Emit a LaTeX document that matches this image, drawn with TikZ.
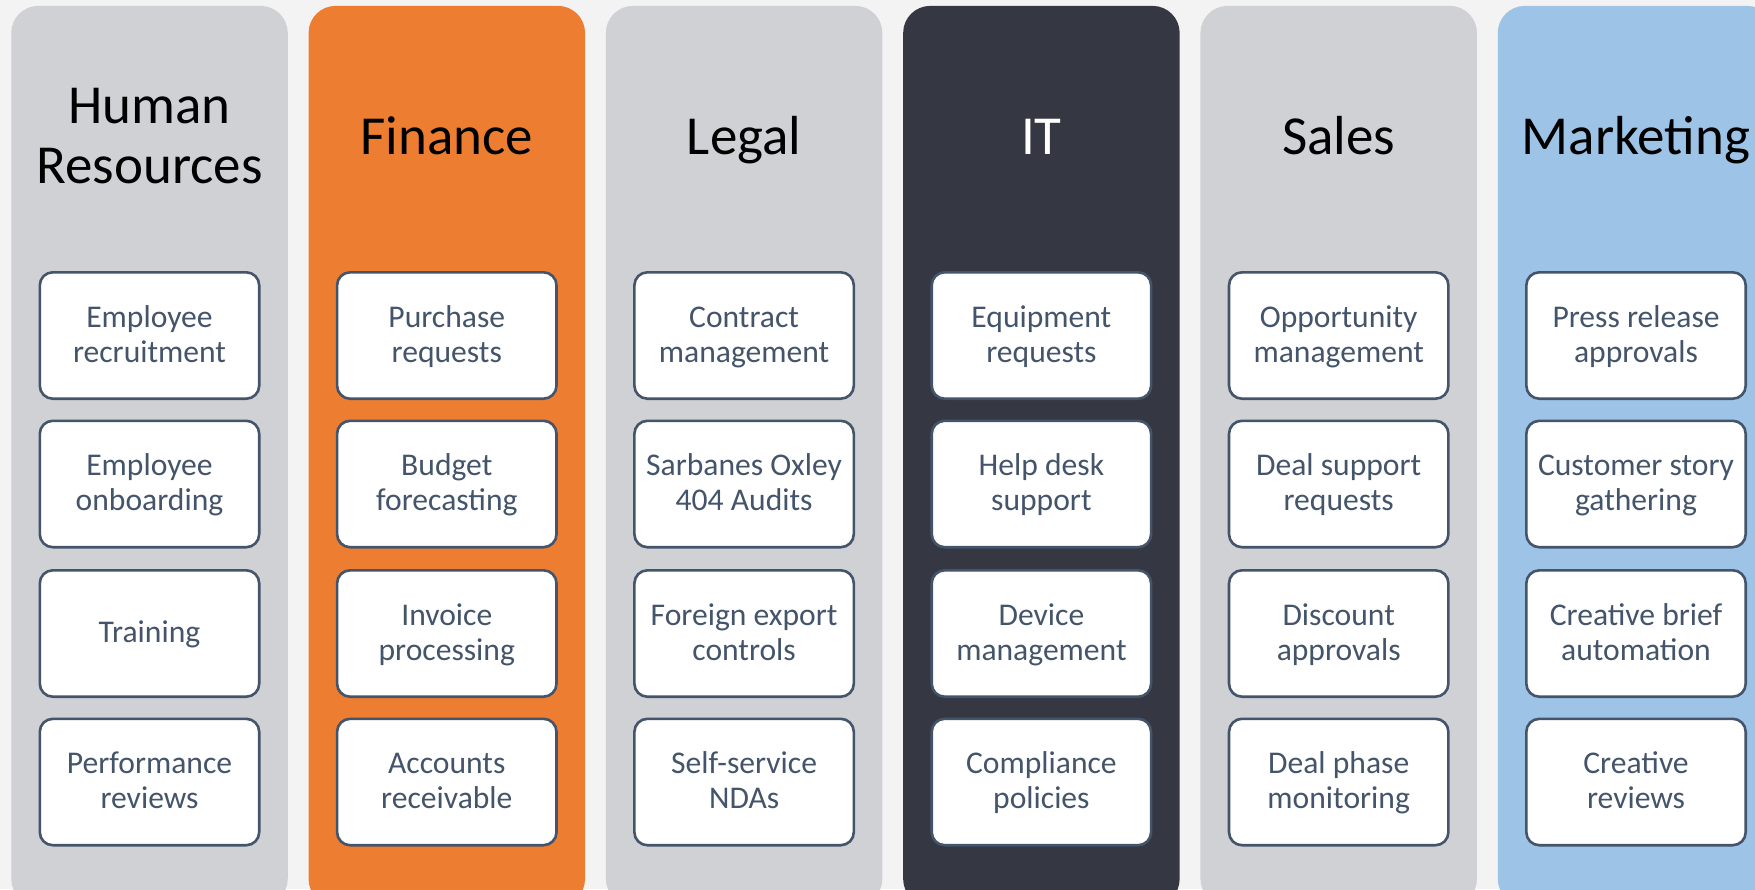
\documentclass[tikz,border=0pt]{standalone}
\usepackage{fontspec}
\setmainfont{Carlito}
\definecolor{bg}{HTML}{F3F3F4}
\definecolor{colgray}{HTML}{D0D1D5}
\definecolor{colorange}{HTML}{ED7D31}
\definecolor{coldark}{HTML}{353743}
\definecolor{colblue}{HTML}{9DC3E6}
\definecolor{slate}{HTML}{44546A}
\begin{document}
\begin{tikzpicture}[x=0.5pt,y=-0.5pt,
  col/.style={rectangle, rounded corners=13.5pt, minimum width=138.25pt, minimum height=450pt, inner sep=0pt, anchor=north, draw=none},
  head/.style={font=\fontsize{27.5}{30}\selectfont, align=center, text=black, inner sep=0pt, anchor=base},
  task/.style={rectangle, rounded corners=6.5pt, draw=slate, line width=1.3pt, fill=white, minimum width=109.7pt, minimum height=63.2pt, inner sep=0pt, align=center, text=slate, font=\fontsize{15.8}{17.5}\selectfont, text height=29.5pt, text depth=3pt},
  taskone/.style={task, text height=12pt}]
\useasboundingbox (0,0) rectangle (1755,889);
\clip (0,0) rectangle (1755,889);
\fill[bg] (0,0) rectangle (1755,889);
% columns
\node[col, fill=colgray]   (hr)    at (149.5,5.5)  {};
\node[col, fill=colorange] (fin)   at (446.8,5.5)  {};
\node[col, fill=colgray]   (legal) at (744.1,5.5)  {};
\node[col, fill=coldark]   (it)    at (1041.4,5.5) {};
\node[col, fill=colgray]   (sales) at (1338.7,5.5) {};
\node[col, fill=colblue]   (mkt)   at (1636.0,5.5) {};
% headers
\node[head] (hrh)    at (149.5,183.3) {Human\\Resources};
\node[head] (finh)   at (446.8,154)   {Finance};
\node[head] (legalh) at (744.1,154)   {Legal};
\node[head, text=white] (ith) at (1041.4,154) {IT};
\node[head] (salesh) at (1338.7,154)  {Sales};
\node[head] (mkth)   at (1636.0,154)  {Marketing};
% HR
\node[task] (hr1) at (149.5,335.5) {Employee\\recruitment};
\node[task] (hr2) at (149.5,484)   {Employee\\onboarding};
\node[taskone] (hr3) at (149.5,633.5) {Training};
\node[task] (hr4) at (149.5,782)   {Performance\\reviews};
% Finance
\node[task] (fin1) at (446.8,335.5) {Purchase\\requests};
\node[task] (fin2) at (446.8,484)   {Budget\\forecasting};
\node[task] (fin3) at (446.8,633.5) {Invoice\\processing};
\node[task] (fin4) at (446.8,782)   {Accounts\\receivable};
% Legal
\node[task] (legal1) at (744.1,335.5) {Contract\\management};
\node[task] (legal2) at (744.1,484)   {Sarbanes Oxley\\404 Audits};
\node[task] (legal3) at (744.1,633.5) {Foreign export\\controls};
\node[task] (legal4) at (744.1,782)   {Self-service\\NDAs};
% IT
\node[task] (it1) at (1041.4,335.5) {Equipment\\requests};
\node[task] (it2) at (1041.4,484)   {Help desk\\support};
\node[task] (it3) at (1041.4,633.5) {Device\\management};
\node[task] (it4) at (1041.4,782)   {Compliance\\policies};
% Sales
\node[task] (sales1) at (1338.7,335.5) {Opportunity\\management};
\node[task] (sales2) at (1338.7,484)   {Deal support\\requests};
\node[task] (sales3) at (1338.7,633.5) {Discount\\approvals};
\node[task] (sales4) at (1338.7,782)   {Deal phase\\monitoring};
% Marketing
\node[task] (mkt1) at (1636.0,335.5) {Press release\\approvals};
\node[task] (mkt2) at (1636.0,484)   {Customer story\\gathering};
\node[task] (mkt3) at (1636.0,633.5) {Creative brief\\automation};
\node[task] (mkt4) at (1636.0,782)   {Creative\\reviews};
\end{tikzpicture}
\end{document}
